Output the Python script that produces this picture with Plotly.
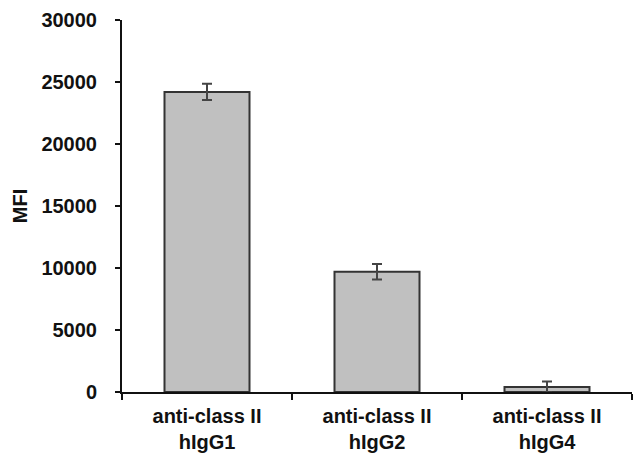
import plotly.graph_objects as go

categories = ["anti-class II<br>hIgG1", "anti-class II<br>hIgG2", "anti-class II<br>hIgG4"]
mfi_values = [24200, 9700, 400]
mfi_errors = [650, 630, 450]
y_tick_values = [0, 5000, 10000, 15000, 20000, 25000, 30000]
y_tick_labels = ["0", "5000", "10000", "15000", "20000", "25000", "30000"]

FONT = "Liberation Sans, Arial, sans-serif"
FS = 20

fig = go.Figure()
fig.add_trace(go.Bar(
    x=categories,
    y=mfi_values,
    marker=dict(color="#c0c0c0", line=dict(color="#333333", width=2)),
    error_y=dict(type="data", array=mfi_errors, visible=True,
                 color="#444444", thickness=2, width=5),
    width=0.5,
))

fig.update_layout(
    width=641, height=462,
    margin=dict(l=122, r=9, t=15, b=69),
    paper_bgcolor="white", plot_bgcolor="white",
    showlegend=False,
    font=dict(family=FONT, color="#111111"),
)
fig.update_xaxes(
    showline=True, linecolor="#111111", linewidth=2,
    ticks="outside", tickson="boundaries", ticklen=6, tickwidth=2, tickcolor="#111111",
    tickfont=dict(family=FONT, size=FS, weight="bold", color="#111111"),
    ticklabelstandoff=5,
    showgrid=False, zeroline=False,
)
fig.update_yaxes(
    range=[0, 30000],
    tickvals=y_tick_values, ticktext=y_tick_labels,
    showline=True, linecolor="#111111", linewidth=2,
    ticks="outside", ticklen=5, tickwidth=2, tickcolor="#111111",
    tickfont=dict(family=FONT, size=FS, weight="bold", color="#111111"),
    ticklabelstandoff=14,
    showgrid=False, zeroline=False,
    title=dict(text="MFI", font=dict(family=FONT, size=FS, weight="bold", color="#111111"), standoff=8),
)

fig.write_html("out.html", config={"displayModeBar": False},
               post_script="document.body.style.margin='0';")
